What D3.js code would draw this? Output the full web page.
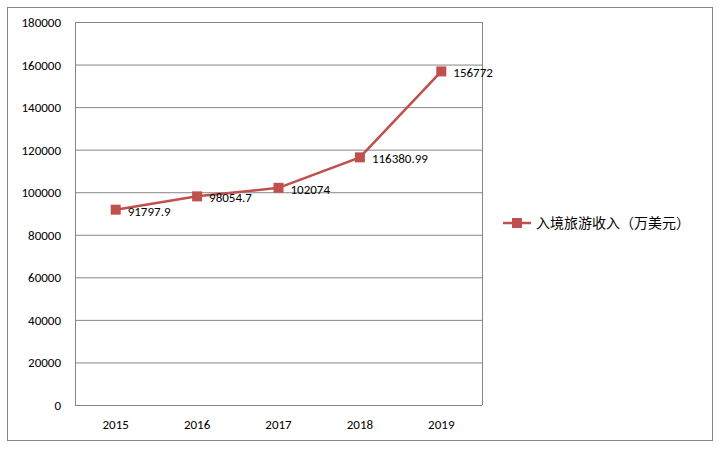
<!DOCTYPE html>
<html><head><meta charset="utf-8">
<script src="https://cdn.jsdelivr.net/npm/d3@7"></script>
<style>body{margin:0;background:#fff}</style></head>
<body><svg id="c" width="720" height="450"></svg>
<script>
const years = ["2015","2016","2017","2018","2019"];
const income = [91797.9, 98054.7, 102074, 116380.99, 156772];
const incomeLabels = ["91797.9","98054.7","102074","116380.99","156772"];
const yTicks = [0,20000,40000,60000,80000,100000,120000,140000,160000,180000];
const seriesName = "入境旅游收入（万美元）";

const svg = d3.select("#c");
const font = "Calibri, Carlito, 'Liberation Sans', 'Noto Sans CJK SC', sans-serif";
const color = "#C0504D";
svg.append("rect").attr("x",7.5).attr("y",7.5).attr("width",705).attr("height",433)
  .attr("fill","#fff").attr("stroke","#868686");
const L=75,R=482,T=22,B=405;
const x = d3.scaleBand().domain(years).range([L,R]);
const y = d3.scaleLinear().domain([0,180000]).range([B,T]);
const g = svg.append("g");
g.selectAll("line.grid").data(yTicks).join("line")
  .attr("x1",L).attr("x2",R).attr("y1",d=>y(d)+0.5).attr("y2",d=>y(d)+0.5)
  .attr("stroke","#868686").attr("stroke-width",1);
g.append("line").attr("x1",L+0.5).attr("x2",L+0.5).attr("y1",T).attr("y2",B).attr("stroke","#868686");
g.append("line").attr("x1",R+0.5).attr("x2",R+0.5).attr("y1",T).attr("y2",B).attr("stroke","#868686");
g.selectAll("text.yt").data(yTicks).join("text")
  .attr("x",L-14).attr("y",d=>y(d)+5).attr("text-anchor","end")
  .attr("font-family",font).attr("font-size",13).attr("fill","#000").text(d=>d);
g.selectAll("text.xt").data(years).join("text")
  .attr("x",d=>x(d)+x.bandwidth()/2).attr("y",B+24).attr("text-anchor","middle")
  .attr("font-family",font).attr("font-size",13).attr("fill","#000").text(d=>d);
const cx = (d,i)=>x(years[i])+x.bandwidth()/2;
const line = d3.line().x((d,i)=>cx(d,i)).y(d=>y(d));
g.append("path").datum(income).attr("d",line).attr("fill","none").attr("stroke",color).attr("stroke-width",2.5);
g.selectAll("rect.m").data(income).join("rect")
  .attr("x",(d,i)=>cx(d,i)-5).attr("y",d=>y(d)-5).attr("width",10).attr("height",10).attr("fill",color);
g.selectAll("text.lb").data(income).join("text")
  .attr("x",(d,i)=>cx(d,i)+12).attr("y",d=>y(d)+6)
  .attr("font-family",font).attr("font-size",13).attr("fill","#000").text((d,i)=>incomeLabels[i]);
svg.append("line").attr("x1",503).attr("x2",531).attr("y1",223).attr("y2",223).attr("stroke",color).attr("stroke-width",2.5);
svg.append("rect").attr("x",512).attr("y",218).attr("width",10).attr("height",10).attr("fill",color);
svg.append("text").attr("x",536).attr("y",228).attr("font-family",font).attr("font-size",14).attr("fill","#000").text(seriesName);
</script></body></html>
